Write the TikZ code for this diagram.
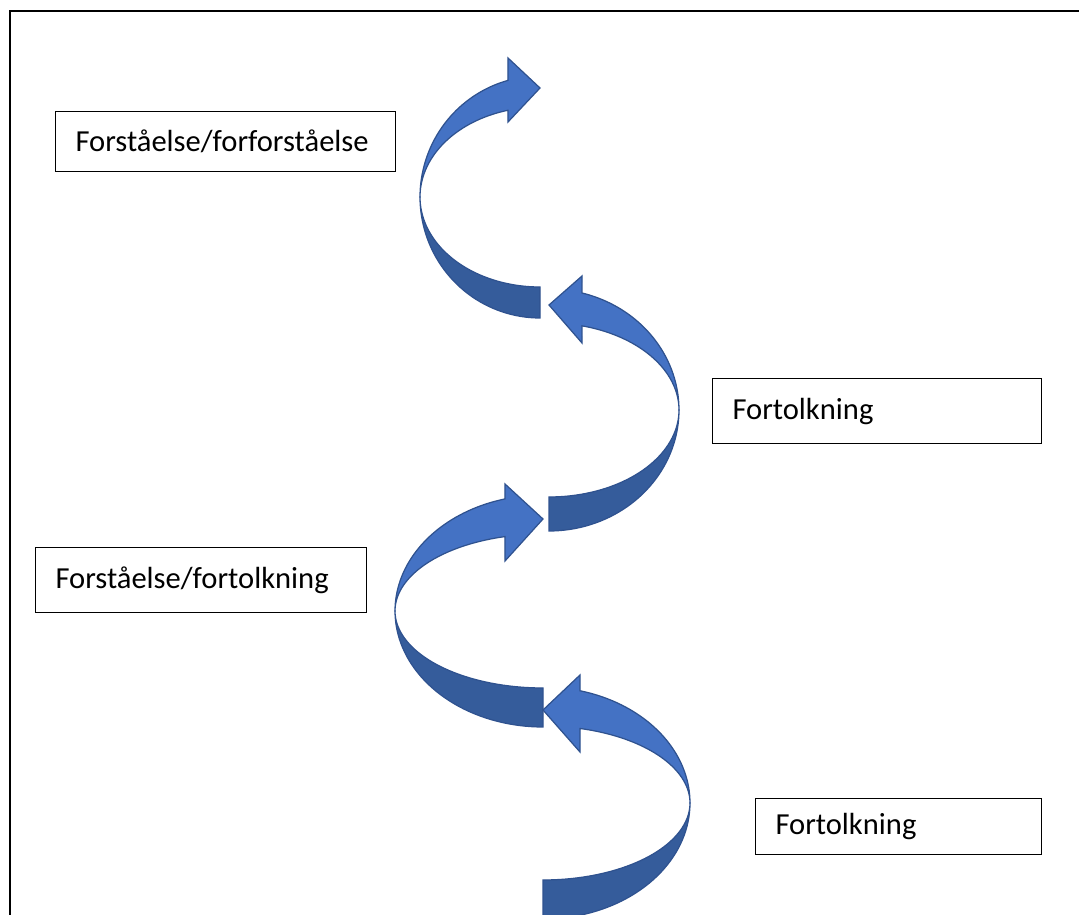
\documentclass[tikz,border=0pt]{standalone}
\usepackage{fontspec}
\setmainfont{Carlito}
\usepackage{tikz}
\usetikzlibrary{positioning}
\definecolor{bandlight}{HTML}{4472C4}
\definecolor{banddark}{HTML}{355C9B}
\definecolor{bandline}{HTML}{2F528F}

\begin{document}
\begin{tikzpicture}[x=0.02cm, y=-0.02cm,
    textbox/.style={draw, line width=0.6pt, anchor=north west, align=left, inner xsep=0.4cm, inner ysep=0pt, font=\fontsize{17.4}{20}\selectfont},
    frontband/.style={fill=bandlight, draw=bandline, line width=0.7pt, line join=miter},
    backband/.style={fill=banddark, draw=bandline, line width=0.7pt},
    variable=\t, samples=40]
  \useasboundingbox (0,0) rectangle (1079,915);
  % frame
  \draw[line width=1.7pt] (10,915) -- (10,11) -- (1079,11);

  % text boxes
  \node[textbox, text width=6.0cm, minimum height=1.2cm] (pre) at (55,111) {Forståelse/forforståelse};
  \node[textbox, text width=5.78cm, minimum height=1.3cm] (tolkA) at (712,378) {Fortolkning};
  \node[textbox, text width=5.82cm, minimum height=1.3cm] (mid) at (35,547) {Forståelse/fortolkning};
  \node[textbox, text width=4.92cm, minimum height=1.12cm] (tolkB) at (755,798) {Fortolkning};

  % spiral of curved arrows, top to bottom
  \draw[backband] plot[domain=180:90] ({540+120*cos(\t)},{197+121*sin(\t)}) -- (540,287)
    -- plot[domain=90:180] ({540+120*cos(\t)},{197+90*sin(\t)}) -- cycle;
  \draw[frontband] plot[domain=180:254.5] ({540+120*cos(\t)},{197+121*sin(\t)}) -- (508,58) -- (540,88) -- (508,122)
    -- plot[domain=254.5:180] ({540+120*cos(\t)},{197+90*sin(\t)}) -- cycle;

  \draw[backband] plot[domain=0:90] ({549+130*cos(\t)},{410+121*sin(\t)}) -- (549,497)
    -- plot[domain=90:0] ({549+130*cos(\t)},{410+87*sin(\t)}) -- cycle;
  \draw[frontband] plot[domain=360:284.7] ({549+130*cos(\t)},{410+121*sin(\t)}) -- (582,276) -- (549,305) -- (582,343)
    -- plot[domain=284.7:360] ({549+130*cos(\t)},{410+87*sin(\t)}) -- cycle;

  \draw[backband] plot[domain=180:90] ({543+148*cos(\t)},{611+116*sin(\t)}) -- (543,688)
    -- plot[domain=90:180] ({543+148*cos(\t)},{611+77*sin(\t)}) -- cycle;
  \draw[frontband] plot[domain=180:255.1] ({543+148*cos(\t)},{611+116*sin(\t)}) -- (505,484) -- (543,519) -- (505,561)
    -- plot[domain=255.1:180] ({543+148*cos(\t)},{611+77*sin(\t)}) -- cycle;

  \draw[backband] plot[domain=0:90] ({543+147*cos(\t)},{803+116*sin(\t)}) -- (543,880)
    -- plot[domain=90:0] ({543+147*cos(\t)},{803+77*sin(\t)}) -- cycle;
  \draw[frontband] plot[domain=360:284.6] ({543+147*cos(\t)},{803+116*sin(\t)}) -- (580,675) -- (543,710) -- (580,752)
    -- plot[domain=284.6:360] ({543+147*cos(\t)},{803+77*sin(\t)}) -- cycle;
\end{tikzpicture}
\end{document}
